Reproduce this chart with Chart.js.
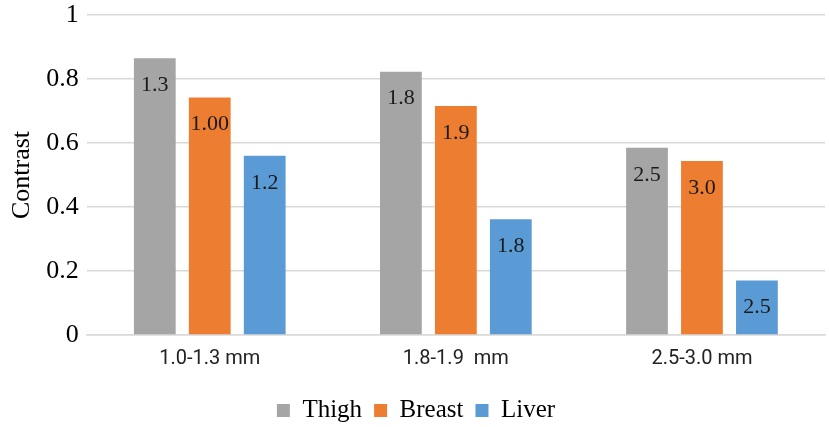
<!DOCTYPE html>
<html>
<head>
<meta charset="utf-8">
<script src="https://cdn.jsdelivr.net/npm/chart.js@4"></script>
<style>
  html, body { margin: 0; padding: 0; background: #fff; }
  #wrap { width: 829px; height: 427px; }
</style>
</head>
<body>
<div id="wrap"><canvas id="contrastChart"></canvas></div>
<script>
const categories = ["1.0-1.3 mm", "1.8-1.9  mm", "2.5-3.0 mm"];
const thigh = [0.865, 0.823, 0.585];
const breast = [0.742, 0.716, 0.544];
const liver = [0.56, 0.362, 0.17];
const thighLabels = ["1.3", "1.8", "2.5"];
const breastLabels = ["1.00", "1.9", "3.0"];
const liverLabels = ["1.2", "1.8", "2.5"];

const serif = "'Liberation Serif', 'Times New Roman', serif";

// draws the text labels inside the top of each bar
const barLabels = {
  id: "barLabels",
  afterDatasetsDraw(chart) {
    const ctx = chart.ctx;
    ctx.save();
    ctx.font = "22px " + serif;
    ctx.fillStyle = "#1a1a1a";
    ctx.textAlign = "center";
    ctx.textBaseline = "middle";
    chart.data.datasets.forEach((ds, i) => {
      chart.getDatasetMeta(i).data.forEach((bar, j) => {
        ctx.fillText(ds.valueLabels[j], bar.x, bar.y + 27);
      });
    });
    ctx.restore();
  }
};

new Chart(document.getElementById("contrastChart"), {
  type: "bar",
  data: {
    labels: categories,
    datasets: [
      { label: "Thigh", data: thigh, valueLabels: thighLabels, backgroundColor: "#A5A5A5" },
      { label: "Breast", data: breast, valueLabels: breastLabels, backgroundColor: "#ED7D31" },
      { label: "Liver", data: liver, valueLabels: liverLabels, backgroundColor: "#5B9BD5" }
    ]
  },
  options: {
    responsive: true,
    maintainAspectRatio: false,
    animation: false,
    categoryPercentage: 0.67,
    barPercentage: 0.76,
    layout: { padding: { left: 7, right: 4, top: 15, bottom: -6 } },
    plugins: {
      tooltip: { enabled: false },
      legend: {
        position: "bottom",
        labels: {
          boxWidth: 13,
          boxHeight: 13,
          padding: 12,
          color: "#000",
          font: { family: serif, size: 25 }
        }
      }
    },
    scales: {
      x: {
        grid: { display: false },
        border: { color: "#d9d9d9", width: 1.5 },
        ticks: { color: "#222", font: { family: "Roboto, sans-serif", size: 20 }, padding: 4 },
        afterFit: (scale) => { scale.height += 11; }
      },
      y: {
        min: 0,
        max: 1,
        ticks: {
          stepSize: 0.2,
          color: "#000",
          padding: 8,
          font: { family: serif, size: 26 },
          callback: (v) => String(Math.round(v * 10) / 10)
        },
        grid: { color: "#d9d9d9", drawTicks: false, lineWidth: 1.5 },
        border: { display: false },
        afterFit: (scale) => { scale.paddingTop = 0; },
        title: {
          display: true,
          text: "Contrast",
          color: "#000",
          padding: 0,
          font: { family: serif, size: 26 }
        }
      }
    }
  },
  plugins: [barLabels]
});
</script>
</body>
</html>
